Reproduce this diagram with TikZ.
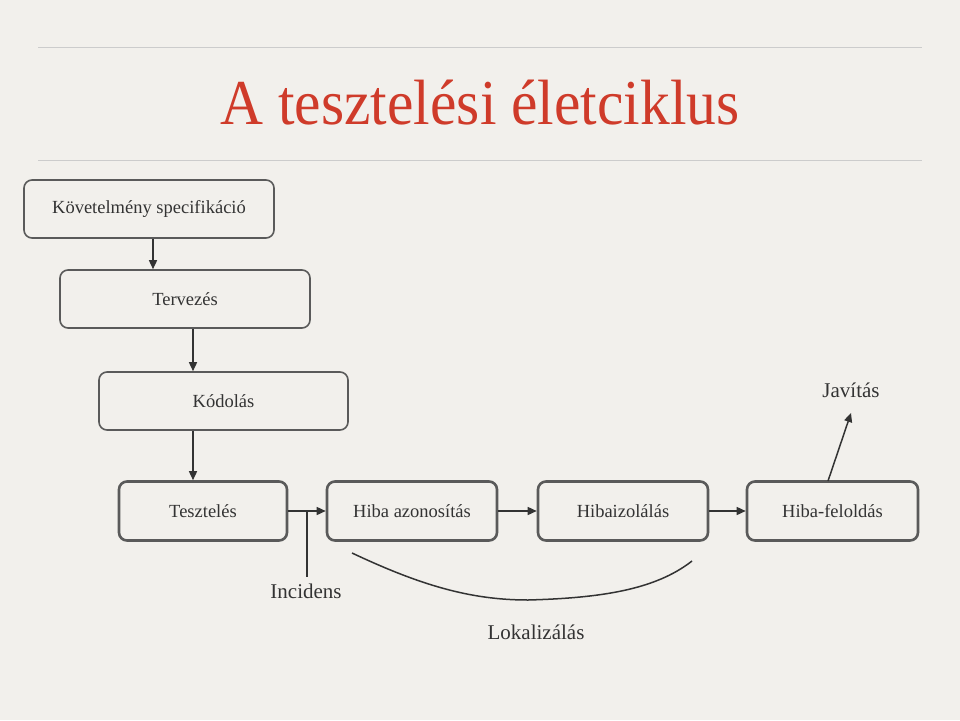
\documentclass[tikz,border=0pt]{standalone}
\usepackage{fontspec}
\setmainfont{Liberation Serif}
\usetikzlibrary{arrows.meta}
\definecolor{bg}{HTML}{F2F0EC}
\definecolor{ttl}{HTML}{CF3B2A}
\definecolor{txt}{HTML}{333333}
\definecolor{bd}{HTML}{5A5A5A}
\tikzset{
  box/.style={draw=bd,line width=1.6pt,rounded corners=8pt,fill=bg,inner sep=0pt,font=\fontsize{18.5}{22}\selectfont,text=txt},
  rowbox/.style={box,line width=2.6pt},
  conn/.style={draw=txt,line width=1.5pt,-{Triangle[length=9pt,width=8pt]}},
  plain/.style={draw=txt,line width=1.5pt},
  lbl/.style={font=\fontsize{21}{24}\selectfont,text=txt}
}
\begin{document}
\begin{tikzpicture}[x=1pt,y=-1pt]
\fill[bg] (0,0) rectangle (960,720);
\useasboundingbox (0,0) rectangle (960,720);
\draw[black!20,line width=0.8pt] (38,47) -- (922,47);
\draw[black!20,line width=0.8pt] (38,160) -- (922,160);
\node[text=ttl,font=\fontsize{64}{70}\selectfont,xscale=0.93] (title) at (480,103) {A tesztelési életciklus};
\node[box,minimum width=250pt,minimum height=58pt] (req) at (149,209) {Követelmény specifikáció};
\node[box,minimum width=250pt,minimum height=58pt] (terv) at (185,299) {Tervezés};
\node[box,minimum width=249pt,minimum height=58pt] (kod) at (223.5,401) {Kódolás};
\node[rowbox,minimum width=168pt,minimum height=59pt] (t) at (203,511) {Tesztelés};
\node[rowbox,minimum width=170pt,minimum height=59pt] (h) at (412,511) {Hiba azonosítás};
\node[rowbox,minimum width=170pt,minimum height=59pt] (i) at (623,511) {Hibaizolálás};
\node[rowbox,minimum width=171pt,minimum height=59pt] (f) at (832.5,511) {Hiba-feloldás};
\node[lbl] (jav) at (851,390) {Javítás};
\node[lbl] (inc) at (306,591) {Incidens};
\node[lbl] (lok) at (536,632) {Lokalizálás};
\draw[conn] (req.south -| 153,0) -- (terv.north -| 153,0);
\draw[conn] (terv.south -| 193,0) -- (kod.north -| 193,0);
\draw[conn] (kod.south -| 193,0) -- (t.north -| 193,0);
\draw[conn] (t) -- (h);
\draw[conn] (h) -- (i);
\draw[conn] (i) -- (f);
\coordinate (fj) at (828,481);
\draw[conn] (fj) -- (851,413);
\coordinate (ia) at (307,511);
\coordinate (ib) at (307,577);
\draw[plain] (ia) -- (ib);
\coordinate (la) at (352,553);
\coordinate (lm) at (528,600);
\coordinate (lb) at (692,561);
\draw[plain] (la) .. controls (420,585) and (470,600) .. (lm) .. controls (600,598) and (655,590) .. (lb);
\end{tikzpicture}
\end{document}
